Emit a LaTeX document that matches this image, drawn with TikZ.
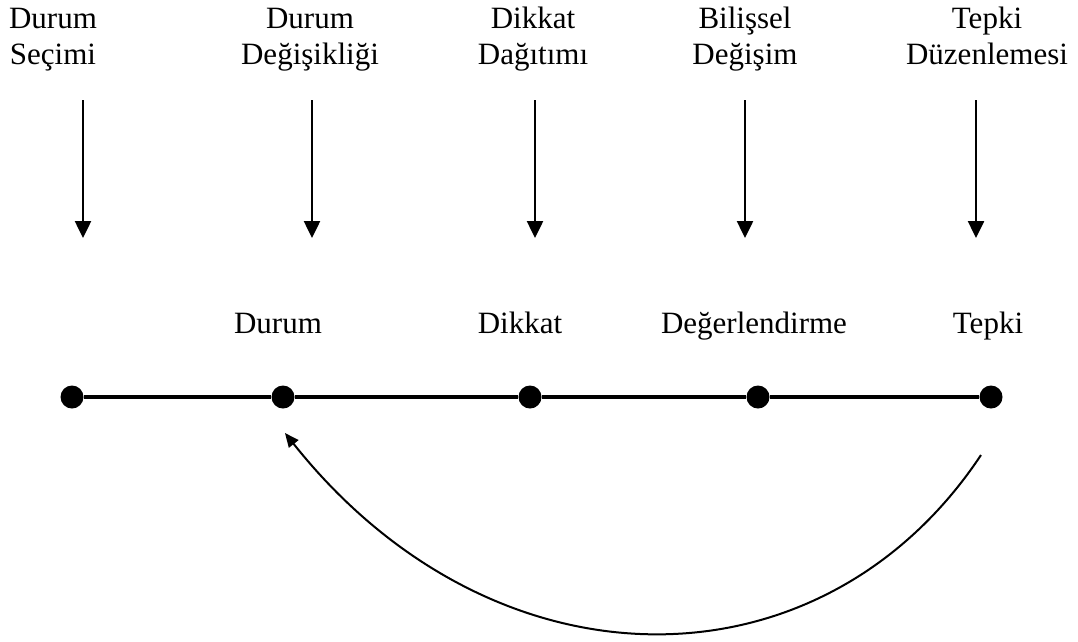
\documentclass[tikz,border=0pt]{standalone}
\usepackage{fontspec}
\setmainfont{Liberation Serif}
\usetikzlibrary{arrows.meta}
\begin{document}
\begin{tikzpicture}[x=1pt,y=-1pt,
  lbl/.style={font=\fontsize{31}{36}\selectfont, inner sep=0pt, anchor=base, align=center},
  dot/.style={circle, fill=black, inner sep=0pt, minimum size=23pt},
  down/.style={line width=2.5pt, -{Triangle[length=17pt,width=16pt]}},
  axis/.style={line width=3.2pt},
  back/.style={line width=2pt, -{Triangle[length=14pt,width=12pt]}}]
\useasboundingbox (0,0) rectangle (1078,641);

% strategy labels (anchored at the baseline of their last line)
\node[lbl] (s1) at (53,64)  {Durum\\Seçimi};
\node[lbl] (s2) at (310,64) {Durum\\Değişikliği};
\node[lbl] (s3) at (533,64) {Dikkat\\Dağıtımı};
\node[lbl] (s4) at (745,64) {Bilişsel\\Değişim};
\node[lbl] (s5) at (987,64) {Tepki\\Düzenlemesi};

% downward arrows
\foreach \i/\x in {1/83, 2/312, 3/535, 4/745, 5/976} {
  \coordinate (t\i) at (\x,100);
  \coordinate (b\i) at (\x,238);
  \draw[down] (t\i) -- (b\i);
}

% stage labels
\node[lbl] (l2) at (278,333) {Durum};
\node[lbl] (l3) at (520,333) {Dikkat};
\node[lbl] (l4) at (754,333) {Değerlendirme};
\node[lbl] (l5) at (988,333) {Tepki};

% process line
\node[dot] (d1) at (72,397) {};
\node[dot] (d2) at (283,397) {};
\node[dot] (d3) at (530,397) {};
\node[dot] (d4) at (758,397) {};
\node[dot] (d5) at (991,397) {};
\draw[axis] (d1) -- (d2) -- (d3) -- (d4) -- (d5);

% feedback arc
\coordinate (fbs) at (981,455);
\coordinate (fbe) at (285,433);
\draw[back] (fbs) .. controls (821,696) and (494,696) .. (fbe);
\end{tikzpicture}
\end{document}
